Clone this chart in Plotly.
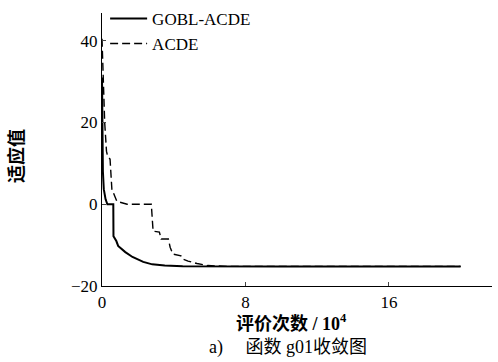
import plotly.graph_objects as go

# GOBL-ACDE (solid)
gobl_x = [0.0, 0.02, 0.05, 0.1, 0.2, 0.3, 0.63, 0.64, 0.8, 0.9, 1.1, 1.3, 1.7, 2.3, 2.8, 3.5, 4.5, 6.0, 10.0, 20.0]
gobl_y = [31.0, 20.0, 8.0, 3.7, 1.2, 0.0, 0.0, -7.8, -9.0, -10.2, -11.0, -11.7, -12.9, -14.1, -14.7, -15.0, -15.15, -15.2, -15.2, -15.2]

# ACDE (dashed)
acde_x = [0.0, 0.05, 0.15, 0.25, 0.3, 0.45, 0.55, 0.83, 1.4, 2.75, 2.85, 3.2, 3.3, 3.7, 3.8, 3.95, 4.4, 4.5, 4.8, 5.3, 5.9, 7.0, 20.0]
acde_y = [40.5, 33.6, 20.0, 13.0, 12.0, 11.0, 3.7, 0.7, 0.0, 0.0, -6.6, -6.8, -8.5, -8.5, -10.5, -12.2, -12.6, -13.4, -13.9, -14.5, -15.0, -15.2, -15.2]

x_ticks = [0, 8, 16]
y_ticks = [-20, 0, 20, 40]

serif = "Liberation Serif, Noto Sans CJK SC"

W, H = 498, 362
ML, MR, MT, MB = 102, 6, 0, 76
plot_h = H - MT - MB  # 286
ax_top = 13

fig = go.Figure()
fig.add_trace(go.Scatter(x=gobl_x, y=gobl_y, mode="lines", name="GOBL-ACDE",
                         line=dict(color="black", width=2)))
fig.add_trace(go.Scatter(x=acde_x, y=acde_y, mode="lines", name="ACDE",
                         line=dict(color="black", width=1.4, dash="8px,4px")))

def px_x(p):
    return (p - ML) / (W - ML - MR)

def px_y(p):
    return (H - MB - p) / plot_h

fig.update_layout(
    width=W, height=H,
    margin=dict(l=ML, r=MR, t=MT, b=MB),
    paper_bgcolor="white", plot_bgcolor="white",
    font=dict(family=serif, size=17, color="black"),
    showlegend=True,
    legend=dict(x=0.008, y=0.997, xanchor="left", yanchor="top",
                bgcolor="rgba(0,0,0,0)", font=dict(size=17, family=serif),
                itemwidth=37, tracegroupgap=0),
    xaxis=dict(range=[0, 21.75], tickvals=x_ticks, ticks="inside", ticklen=4,
               showline=True, linecolor="black", linewidth=1.2, showgrid=False,
               zeroline=False, tickfont=dict(size=17, family=serif)),
    yaxis=dict(range=[-20, 46.8], tickvals=y_ticks, ticks="inside", ticklen=4,
               domain=[0, (plot_h - ax_top) / plot_h],
               showline=True, linecolor="black", linewidth=1.2, showgrid=False,
               zeroline=False, tickfont=dict(size=17, family=serif)),
    annotations=[
        dict(text="<b>适应值</b>", xref="paper", yref="paper",
             x=px_x(15), y=px_y(156), xanchor="center", yanchor="middle",
             textangle=-90, showarrow=False,
             font=dict(size=18, family="Noto Sans CJK SC")),
        dict(text="<b>评价次数 / 10<sup>4</sup></b>", xref="paper", yref="paper",
             x=px_x(291), y=px_y(322), xanchor="center", yanchor="middle", showarrow=False,
             font=dict(size=18, family=serif)),
        dict(text="a)　 函数 g01收敛图", xref="paper", yref="paper",
             x=px_x(288), y=px_y(348), xanchor="center", yanchor="middle", showarrow=False,
             font=dict(size=18, family=serif)),
    ],
)

fig.write_html("out.html")
